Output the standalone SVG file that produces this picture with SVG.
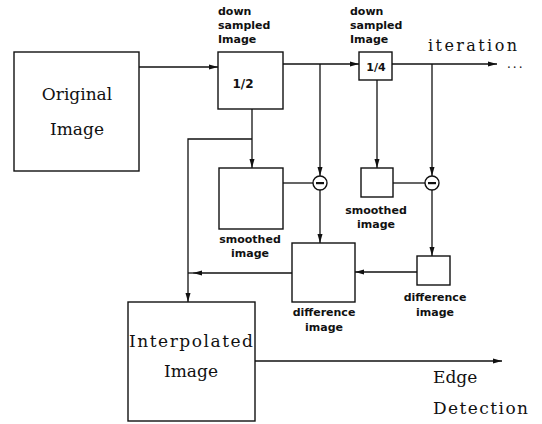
<svg xmlns="http://www.w3.org/2000/svg" width="542" height="424" viewBox="0 0 542 424">
<style>
.box{fill:none;stroke:#111;stroke-width:1.4}
.ln{fill:none;stroke:#111;stroke-width:1.3}
.big{font-family:"DejaVu Serif","Liberation Serif",serif;font-size:16px;fill:#111}
.sm{font-family:"DejaVu Sans","Liberation Sans",sans-serif;font-size:11px;font-weight:bold;fill:#111}
.mid{text-anchor:middle}
</style>
<defs>
<marker id="ah" markerWidth="9" markerHeight="6" refX="9" refY="3" orient="auto" markerUnits="userSpaceOnUse">
<path d="M0,0.5 L9,3 L0,5.5 Z" fill="#111"/>
</marker>
</defs>
<rect width="542" height="424" fill="#fff"/>
<g id="connectors">
<line class="ln" x1="139" y1="67" x2="218" y2="67" marker-end="url(#ah)"/>
<line class="ln" x1="283" y1="64" x2="359" y2="64" marker-end="url(#ah)"/>
<line class="ln" x1="392" y1="64" x2="497" y2="64" marker-end="url(#ah)"/>
<line class="ln" x1="252" y1="109" x2="252" y2="168" marker-end="url(#ah)"/>
<polyline class="ln" points="252,139 188,139 188,302" marker-end="url(#ah)"/>
<line class="ln" x1="320" y1="64" x2="320" y2="176" marker-end="url(#ah)"/>
<line class="ln" x1="432" y1="64" x2="432" y2="176" marker-end="url(#ah)"/>
<line class="ln" x1="377" y1="80" x2="377" y2="168" marker-end="url(#ah)"/>
<line class="ln" x1="283" y1="183" x2="313" y2="183"/>
<line class="ln" x1="393" y1="183" x2="425" y2="183"/>
<line class="ln" x1="320" y1="190" x2="320" y2="243" marker-end="url(#ah)"/>
<line class="ln" x1="432" y1="190" x2="432" y2="256" marker-end="url(#ah)"/>
<line class="ln" x1="417" y1="272" x2="355" y2="272" marker-end="url(#ah)"/>
<line class="ln" x1="292" y1="273" x2="193" y2="273" marker-end="url(#ah)"/>
<line class="ln" x1="193" y1="273" x2="188" y2="273"/>
<line class="ln" x1="255" y1="361" x2="502" y2="361" marker-end="url(#ah)"/>
</g>
<g id="original">
<rect class="box" x="14" y="52" width="125" height="119"/>
<text class="big mid" x="77" y="100" style="font-size:17px">Original</text>
<text class="big mid" x="77" y="135" style="font-size:17px">Image</text>
</g>
<g id="down1">
<rect class="box" x="218" y="52" width="65" height="57"/>
<text class="sm mid" x="243" y="88" style="font-size:12px">1/2</text>
<text class="sm" x="218" y="15">down</text>
<text class="sm" x="218" y="29">sampled</text>
<text class="sm" x="218" y="43">Image</text>
</g>
<g id="down2">
<rect class="box" x="359" y="52" width="33" height="28"/>
<text class="sm mid" x="376" y="71">1/4</text>
<text class="sm" x="350" y="15">down</text>
<text class="sm" x="350" y="29">sampled</text>
<text class="sm" x="350" y="43">Image</text>
</g>
<g id="iteration">
<text class="big" x="428" y="51" textLength="89">iteration</text>
<text class="big" x="507" y="68" style="font-size:12px" letter-spacing="2">...</text>
</g>
<g id="smooth1">
<rect class="box" x="219" y="168" width="64" height="61"/>
<text class="sm mid" x="250" y="243">smoothed</text>
<text class="sm mid" x="250" y="257">image</text>
</g>
<g id="smooth2">
<rect class="box" x="361" y="168" width="32" height="29"/>
<text class="sm mid" x="376" y="214">smoothed</text>
<text class="sm mid" x="376" y="228">image</text>
</g>
<g id="sub1">
<circle cx="320" cy="183" r="7" fill="#fff" stroke="#111" stroke-width="1.4"/>
<rect x="316" y="182" width="8" height="2.2" fill="#111"/>
</g>
<g id="sub2">
<circle cx="432" cy="183" r="7" fill="#fff" stroke="#111" stroke-width="1.4"/>
<rect x="428" y="182" width="8" height="2.2" fill="#111"/>
</g>
<g id="diff1">
<rect class="box" x="292" y="243" width="63" height="59"/>
<text class="sm mid" x="324" y="316">difference</text>
<text class="sm mid" x="324" y="331">image</text>
</g>
<g id="diff2">
<rect class="box" x="417" y="256" width="33" height="29"/>
<text class="sm mid" x="435" y="301">difference</text>
<text class="sm mid" x="435" y="316">image</text>
</g>
<g id="interp">
<rect class="box" x="128" y="302" width="127" height="119"/>
<text class="big mid" x="191" y="347" style="font-size:17px" textLength="124">Interpolated</text>
<text class="big mid" x="191" y="377" style="font-size:17px">Image</text>
</g>
<g id="edge">
<text class="big" x="433" y="383" style="font-size:17px">Edge</text>
<text class="big" x="433" y="414" style="font-size:17px" textLength="95">Detection</text>
</g>
</svg>
